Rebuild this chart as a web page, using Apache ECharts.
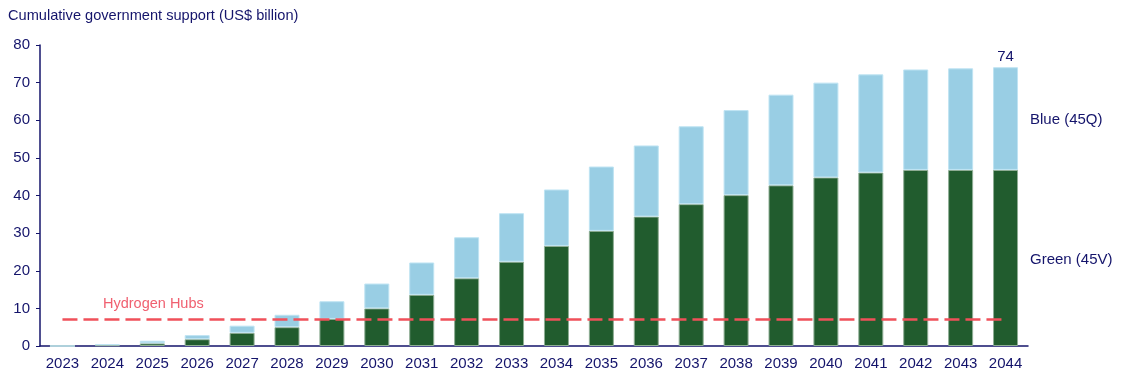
<!DOCTYPE html>
<html>
<head>
<meta charset="utf-8">
<script src="https://cdn.jsdelivr.net/npm/echarts@6/dist/echarts.min.js"></script>
<style>html,body{margin:0;padding:0;background:#fff}#c{width:1121px;height:380px}</style>
</head>
<body>
<div id="c"></div>
<script>
const years = ['2023','2024','2025','2026','2027','2028','2029','2030','2031','2032','2033','2034','2035','2036','2037','2038','2039','2040','2041','2042','2043','2044'];
const greenValues = [0, 0.2, 0.7, 1.8, 3.5, 5.0, 7.2, 10.0, 13.6, 18.0, 22.4, 26.6, 30.6, 34.4, 37.7, 40.1, 42.7, 44.8, 46.1, 46.8, 46.8, 46.8];
const totalValues = [0, 0.5, 1.4, 2.9, 5.4, 8.3, 11.9, 16.6, 22.2, 28.9, 35.3, 41.6, 47.7, 53.3, 58.4, 62.7, 66.8, 70.0, 72.2, 73.5, 73.8, 74.1];
const blueValues = totalValues.map((t, i) => +(t - greenValues[i]).toFixed(2));
const hubsLevel = 7;
const yTicks = [0, 10, 20, 30, 40, 50, 60, 70, 80];
const navy = '#14146b';
const font = 'Liberation Sans, Arial, sans-serif';

const chart = echarts.init(document.getElementById('c'));
chart.setOption({
  animation: false,
  textStyle: { fontFamily: font },
  grid: { left: 40, right: 93, top: 45, bottom: 34 },
  title: {
    text: 'Cumulative government support (US$ billion)',
    left: 3, top: 3,
    textStyle: { color: navy, fontSize: 14.6, fontWeight: 'normal', fontFamily: font }
  },
  xAxis: {
    type: 'category', data: years,
    axisLine: { lineStyle: { color: navy, width: 1.5 } },
    axisTick: { show: false },
    axisLabel: { color: navy, fontSize: 15, margin: 10, fontFamily: font }
  },
  yAxis: {
    type: 'value', min: yTicks[0], max: yTicks[yTicks.length - 1], interval: 10,
    axisLine: { show: true, lineStyle: { color: navy, width: 1.5 } },
    axisTick: { show: true, inside: false, length: 4, lineStyle: { color: navy } },
    splitLine: { show: false },
    axisLabel: { color: navy, fontSize: 15, margin: 10, fontFamily: font }
  },
  series: [
    {
      name: 'Green (45V)', type: 'bar', stack: 's', data: greenValues, barWidth: 25,
      itemStyle: { color: '#215c2e', borderColor: '#8fae95', borderWidth: 1 },
      markLine: {
        symbol: 'none', silent: true,
        lineStyle: { color: '#f0505a', type: [15, 6], width: 2.5 },
        label: { show: false },
        data: [[{ coord: [years[0], hubsLevel] }, { coord: [years[years.length - 1], hubsLevel] }]]
      }
    },
    {
      name: 'Blue (45Q)', type: 'bar', stack: 's', data: blueValues, barWidth: 25,
      itemStyle: { color: '#99cee4', borderColor: '#bfe4f3', borderWidth: 1 },
      label: {
        show: true, position: 'top', color: navy, fontSize: 15, distance: 3,
        formatter: p => p.dataIndex === years.length - 1 ? String(Math.round(totalValues[p.dataIndex])) : ''
      }
    }
  ],
  graphic: [
    { type: 'text', left: 1030, top: 112, style: { text: 'Blue (45Q)', fill: navy, font: '15px ' + font } },
    { type: 'text', left: 1030, top: 252, style: { text: 'Green (45V)', fill: navy, font: '15px ' + font } },
    { type: 'text', left: 103, top: 296, style: { text: 'Hydrogen Hubs', fill: '#f06070', font: '14.5px ' + font } }
  ]
});
</script>
</body>
</html>
